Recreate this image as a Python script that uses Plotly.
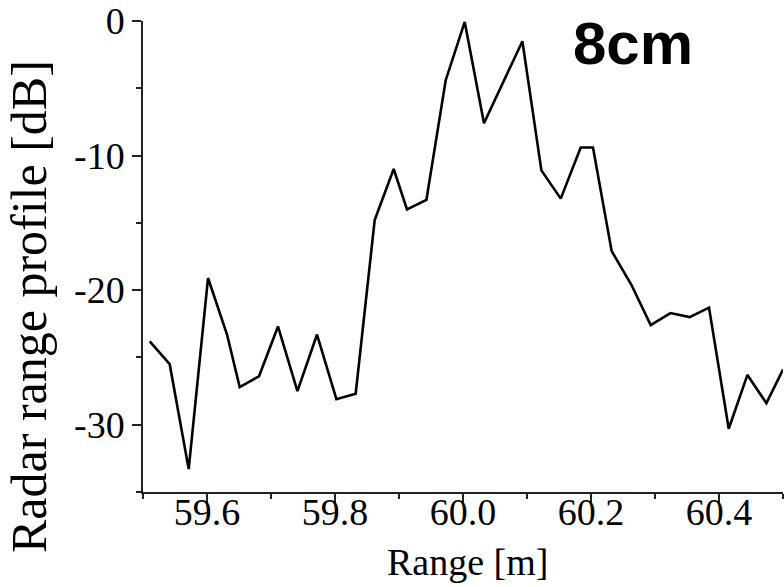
import plotly.graph_objects as go

range_m = [59.5105, 59.5417, 59.5714, 59.6016, 59.6313, 59.6511, 59.6813, 59.7109,
           59.7413, 59.7719, 59.8022, 59.8323, 59.8620, 59.8917, 59.9125, 59.9428,
           59.9730, 60.0027, 60.0328, 60.0928, 60.1225, 60.1527, 60.1839, 60.2031,
           60.2323, 60.2631, 60.2933, 60.3241, 60.3542, 60.3844, 60.4152, 60.4444,
           60.4741, 60.5000]
profile_db = [-23.8, -25.5, -33.3, -19.1, -23.3, -27.2, -26.4, -22.7,
              -27.5, -23.3, -28.1, -27.7, -14.8, -11.0, -14.0, -13.3,
              -4.4, -0.07, -7.6, -1.5, -11.1, -13.2, -9.4, -9.4,
              -17.1, -19.6, -22.6, -21.7, -22.0, -21.3, -30.3, -26.3,
              -28.4, -25.9]

x_ticks = [59.6, 59.8, 60.0, 60.2, 60.4]
x_ticklabels = ["59.6", "59.8", "60.0", "60.2", "60.4"]
y_ticks = [0, -10, -20, -30]
y_ticklabels = ["0", "-10", "-20", "-30"]

serif = "Liberation Serif, Times New Roman, serif"

W, H = 784, 587
L, R, T, B = 143, 1, 21, 95
pw, ph = W - L - R, H - T - B


def px(xp):
    return (xp - L) / pw


def py(yp):
    return (H - B - yp) / ph


fig = go.Figure()
fig.add_trace(go.Scatter(x=range_m, y=profile_db, mode="lines",
                         line=dict(color="black", width=2.6), showlegend=False))

fig.update_layout(
    width=W, height=H,
    margin=dict(l=L, r=R, t=T, b=B, autoexpand=False),
    plot_bgcolor="white", paper_bgcolor="white",
    font=dict(family=serif, color="black"),
    annotations=[
        dict(text="<b>8cm</b>", x=60.265, y=-1.66, xref="x", yref="y",
             showarrow=False, font=dict(family="Liberation Sans, Arial, sans-serif",
                                        size=60, color="black")),
        dict(text="Range [m]", x=px(467), y=py(562), xref="paper", yref="paper",
             xanchor="center", yanchor="middle", showarrow=False,
             font=dict(size=38, family=serif, color="black")),
        dict(text="Radar range profile [dB]", x=px(29), y=py(307), xref="paper", yref="paper",
             xanchor="center", yanchor="middle", showarrow=False, textangle=-90,
             font=dict(size=50, family=serif, color="black")),
    ],
)
fig.update_xaxes(range=[59.5, 60.5], tickvals=x_ticks, ticktext=x_ticklabels,
                 ticks="outside", ticklen=10, tickwidth=1.5, tickcolor="#222",
                 showline=True, linecolor="#222", linewidth=1.5, mirror=False,
                 showgrid=False, zeroline=False, automargin=False,
                 ticklabelstandoff=-24,
                 tickfont=dict(size=38, family=serif),
                 minor=dict(tickvals=[59.5, 59.7, 59.9, 60.1, 60.3, 60.5], ticks="outside",
                            ticklen=5, tickwidth=1.5, tickcolor="#222"))
fig.update_yaxes(range=[-35, 0], tickvals=y_ticks, ticktext=y_ticklabels,
                 ticks="outside", ticklen=9, tickwidth=1.5, tickcolor="#222",
                 showline=True, linecolor="#222", linewidth=1.5, mirror=False,
                 showgrid=False, zeroline=False, automargin=False,
                 tickfont=dict(size=38, family=serif),
                 minor=dict(tickvals=[-5, -15, -25, -35], ticks="outside",
                            ticklen=5, tickwidth=1.5, tickcolor="#222"))

fig.write_html("out.html", config={"displayModeBar": False},
               post_script="document.body.style.margin='0';")
